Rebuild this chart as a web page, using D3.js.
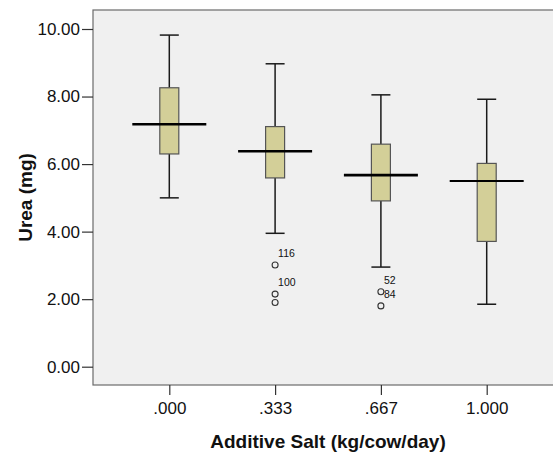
<!DOCTYPE html>
<html>
<head>
<meta charset="utf-8">
<script src="https://cdn.jsdelivr.net/npm/d3@7"></script>
<style>
  body { margin: 0; background: #fff; }
  svg { display: block; font-family: Arial, "Liberation Sans", sans-serif; }
</style>
</head>
<body>
<svg width="553" height="454"></svg>
<script>
// salt levels and box stats
var groups = [".000", ".333", ".667", "1.000"];
var whiskerHigh = [9.82, 8.97, 8.05, 7.92];
var q3 = [8.26, 7.11, 6.59, 6.02];
var median = [7.18, 6.38, 5.67, 5.50];
var q1 = [6.30, 5.59, 4.91, 3.71];
var whiskerLow = [5.00, 3.95, 2.95, 1.85];
var outlierGroup = [".333", ".333", ".333", ".667", ".667"];
var outlierValue = [3.01, 2.15, 1.90, 2.22, 1.80];
var outlierLabel = ["116", "100", "", "52", "84"];
var yTicks = [0, 2, 4, 6, 8, 10];

var svg = d3.select("svg");

// frame edges (right edge runs past the picture, as in the original)
var plotLeft = 93, plotRight = 563, plotTop = 10, plotBottom = 385;

var x = d3.scalePoint().domain(groups).range([169.3, 486.7]);
var y = d3.scaleLinear().domain([0, 10]).range([366.7, 29]);

// plot background
svg.append("rect")
  .attr("x", plotLeft).attr("y", plotTop)
  .attr("width", plotRight - plotLeft).attr("height", plotBottom - plotTop)
  .attr("fill", "#f0f0f0")
  .attr("stroke", "#6b6b6b")
  .attr("stroke-width", 1.2);

// y axis
var yAxis = svg.append("g")
  .attr("transform", "translate(" + plotLeft + ",0)")
  .call(d3.axisLeft(y).tickValues(yTicks).tickFormat(d3.format(".2f")).tickSize(11).tickPadding(2));
yAxis.select(".domain").remove();
yAxis.selectAll("line").attr("stroke", "#333").attr("stroke-width", 1.2);
yAxis.selectAll("text").attr("font-size", 17).attr("fill", "#111").attr("font-family", "Arial, 'Liberation Sans', sans-serif");

// x axis
var xAxis = svg.append("g")
  .attr("transform", "translate(0," + plotBottom + ")")
  .call(d3.axisBottom(x).tickSize(10).tickPadding(7));
xAxis.select(".domain").remove();
xAxis.selectAll("line").attr("stroke", "#333").attr("stroke-width", 1.2);
xAxis.selectAll("text").attr("font-size", 17).attr("fill", "#111").attr("font-family", "Arial, 'Liberation Sans', sans-serif");

// boxes
var boxW = 19, medW = 74;
var g = svg.append("g");
groups.forEach(function (k, i) {
  var cx = x(k);
  // whiskers
  g.append("line").attr("x1", cx).attr("x2", cx).attr("y1", y(whiskerHigh[i])).attr("y2", y(q3[i]))
    .attr("stroke", "#1a1a1a").attr("stroke-width", 1.5);
  g.append("line").attr("x1", cx).attr("x2", cx).attr("y1", y(q1[i])).attr("y2", y(whiskerLow[i]))
    .attr("stroke", "#1a1a1a").attr("stroke-width", 1.5);
  g.append("line").attr("x1", cx - boxW / 2).attr("x2", cx + boxW / 2).attr("y1", y(whiskerHigh[i])).attr("y2", y(whiskerHigh[i]))
    .attr("stroke", "#1a1a1a").attr("stroke-width", 1.5);
  g.append("line").attr("x1", cx - boxW / 2).attr("x2", cx + boxW / 2).attr("y1", y(whiskerLow[i])).attr("y2", y(whiskerLow[i]))
    .attr("stroke", "#1a1a1a").attr("stroke-width", 1.5);
  // box
  g.append("rect")
    .attr("x", cx - boxW / 2).attr("y", y(q3[i]))
    .attr("width", boxW).attr("height", y(q1[i]) - y(q3[i]))
    .attr("fill", "#d3cf98")
    .attr("stroke", "#555")
    .attr("stroke-width", 1.2);
  // median
  g.append("line").attr("x1", cx - medW / 2).attr("x2", cx + medW / 2).attr("y1", y(median[i])).attr("y2", y(median[i]))
    .attr("stroke", "#000").attr("stroke-width", i == 3 ? 2 : 2.7);
});

// outliers
outlierValue.forEach(function (v, i) {
  var cx = x(outlierGroup[i]);
  g.append("circle").attr("cx", cx).attr("cy", y(v)).attr("r", 3)
    .attr("fill", "none").attr("stroke", "#333").attr("stroke-width", 1.1);
  g.append("text").attr("x", cx + 3).attr("y", y(v) - 8)
    .attr("font-size", 10.5).attr("fill", "#111")
    .text(outlierLabel[i]);
});

// axis titles
svg.append("text")
  .attr("x", (plotLeft + plotRight) / 2).attr("y", 448)
  .attr("text-anchor", "middle")
  .attr("font-size", 19).attr("font-weight", "bold").attr("fill", "#111")
  .text("Additive Salt (kg/cow/day)");

svg.append("text")
  .attr("transform", "translate(32," + (plotTop + plotBottom) / 2 + ") rotate(-90)")
  .attr("text-anchor", "middle")
  .attr("font-size", 19).attr("font-weight", "bold").attr("fill", "#111")
  .text("Urea (mg)");
</script>
</body>
</html>
